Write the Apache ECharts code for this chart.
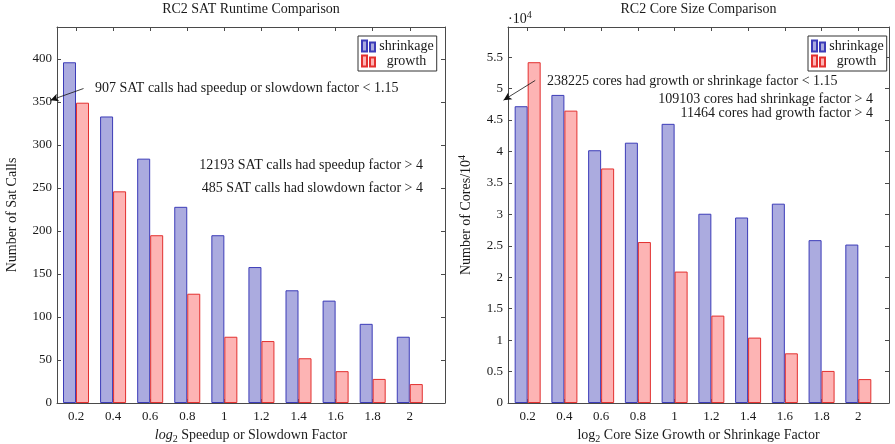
<!DOCTYPE html>
<html>
<head>
<meta charset="utf-8">
<script src="https://cdn.jsdelivr.net/npm/echarts@6/dist/echarts.min.js"></script>
<style>
  html, body { margin: 0; padding: 0; background: #fff; }
  #chart { width: 895px; height: 444px; }
</style>
</head>
<body>
<div id="chart"></div>
<script>
// log2 factor buckets (shared by both plots)
const factors = [0.2, 0.4, 0.6, 0.8, 1, 1.2, 1.4, 1.6, 1.8, 2];

// left plot: number of SAT calls
const satShrink = [396, 333, 284, 228, 195, 158, 131, 119, 92, 77];
const satGrowth = [349, 246, 195, 127, 77, 72, 52, 37, 28, 22];

// right plot: number of cores / 10^4
const coreShrink = [4.72, 4.9, 4.02, 4.14, 4.44, 3.01, 2.95, 3.17, 2.59, 2.52];
const coreGrowth = [5.42, 4.65, 3.73, 2.56, 2.09, 1.39, 1.04, 0.79, 0.51, 0.38];

// tick labels
const satTicks = [0, 50, 100, 150, 200, 250, 300, 350, 400];
const coreTicks = [0, 0.5, 1, 1.5, 2, 2.5, 3, 3.5, 4, 4.5, 5, 5.5];

const FONT = "'Liberation Serif', 'DejaVu Serif', serif";
const TXT = '#1a1a1a';
const LINE = '#4a4a4a';
const BLUE_FILL = '#ababdf', BLUE_LINE = '#3c3cb8';
const RED_FILL = '#fdb4b4', RED_LINE = '#e3302f';

const pair = (xs, ys) => xs.map((x, i) => [x, ys[i]]);

const richBase = {
  n: { fontFamily: FONT, fontSize: 14, color: TXT, lineHeight: 18 },
  i: { fontFamily: FONT, fontSize: 14, color: TXT, lineHeight: 18, fontStyle: 'italic' },
  sub: { fontFamily: FONT, fontSize: 10, color: TXT, lineHeight: 10, verticalAlign: 'bottom' },
  sup: { fontFamily: FONT, fontSize: 10, color: TXT, lineHeight: 10, verticalAlign: 'top' }
};

// one side of the box
function xAxisOf(grid, min, max, pos, name) {
  return {
    gridIndex: grid, type: 'value', min, max, position: pos,
    axisLine: { show: true, onZero: false, lineStyle: { color: LINE, width: 1 } },
    axisTick: { show: true, inside: true, length: 4, customValues: factors, lineStyle: { color: LINE } },
    axisLabel: {
      show: pos === 'bottom', customValues: factors, margin: 7,
      fontFamily: FONT, fontSize: 13, color: TXT
    },
    splitLine: { show: false },
    name: name || '', nameLocation: 'middle', nameGap: 19,
    nameTextStyle: { rich: richBase }
  };
}

function yAxisOf(grid, max, ticks, pos, name, gap) {
  return {
    gridIndex: grid, type: 'value', min: 0, max, position: pos,
    axisLine: { show: true, onZero: false, lineStyle: { color: LINE, width: 1 } },
    axisTick: { show: true, inside: true, length: 4, customValues: ticks, lineStyle: { color: LINE } },
    axisLabel: {
      show: pos === 'left', customValues: ticks, margin: 5,
      fontFamily: FONT, fontSize: 13, color: TXT
    },
    splitLine: { show: false },
    name: name || '', nameLocation: 'middle', nameGap: gap || 0, nameRotate: 90,
    nameTextStyle: { rich: richBase }
  };
}

function arrow(from, to) {
  return {
    silent: true, animation: false,
    symbol: ['none', 'arrow'], symbolSize: [6, 8],
    label: { show: false },
    lineStyle: { color: '#111', width: 0.8, type: 'solid' },
    data: [[{ coord: from }, { coord: to }]]
  };
}

function bars(name, xi, data, fill, line, extra) {
  return Object.assign({
    name, type: 'bar', xAxisIndex: xi, yAxisIndex: xi,
    data, barWidth: 13, barGap: '0%',
    itemStyle: { color: fill, borderColor: line, borderWidth: 1 }
  }, extra || {});
}

function legendOf(left) {
  return {
    orient: 'vertical', left, top: 36,
    data: ['shrinkage', 'growth'],
    icon: 'path://M0,0h5v11h-5z M8,2h5v9h-5z',
    itemWidth: 13, itemHeight: 11, itemGap: 1,
    padding: [3, 3, 3, 3],
    borderColor: '#333', borderWidth: 1, backgroundColor: '#fff',
    selectedMode: false,
    formatter: n => '{t|' + n + '}',
    textStyle: {
      rich: { t: { fontFamily: FONT, fontSize: 14, color: TXT, width: 53, align: 'center', lineHeight: 15 } }
    }
  };
}

function label(x, y, text, align) {
  return {
    type: 'text', x, y, silent: true,
    style: {
      text, align: align || 'left', verticalAlign: 'middle',
      fontFamily: FONT, fontSize: 14, fill: TXT, rich: richBase
    }
  };
}

const chart = echarts.init(document.getElementById('chart'));
chart.setOption({
  animation: false,
  grid: [
    { left: 57, right: 450, top: 27, bottom: 41, outerBoundsMode: 'none' },
    { left: 508, right: 6, top: 27, bottom: 41, outerBoundsMode: 'none' }
  ],
  xAxis: [
    xAxisOf(0, 0.0975, 2.19, 'bottom', '{i|log}{sub|2}{n| Speedup or Slowdown Factor}'),
    xAxisOf(1, 0.093, 2.167, 'bottom', '{n|log}{sub|2}{n| Core Size Growth or Shrinkage Factor}'),
    xAxisOf(0, 0.0975, 2.19, 'top'),
    xAxisOf(1, 0.093, 2.167, 'top')
  ],
  yAxis: [
    yAxisOf(0, 437, satTicks, 'left', '{n|Number of Sat Calls}', 36),
    yAxisOf(1, 5.98, coreTicks, 'left', '{n|Number of Cores/10}{sup|4}', 33),
    yAxisOf(0, 437, satTicks, 'right'),
    yAxisOf(1, 5.98, coreTicks, 'right')
  ],
  legend: [legendOf(358), legendOf(808)],
  series: [
    bars('shrinkage', 0, pair(factors, satShrink), BLUE_FILL, BLUE_LINE,
      { markLine: arrow([0.2756, 365.5], [0.0975, 351.9]) }),
    bars('growth', 0, pair(factors, satGrowth), RED_FILL, RED_LINE),
    bars('shrinkage', 1, pair(factors, coreShrink), BLUE_FILL, BLUE_LINE,
      { markLine: arrow([0.2765, 5.13], [0.104, 4.817]) }),
    bars('growth', 1, pair(factors, coreGrowth), RED_FILL, RED_LINE)
  ],
  graphic: [
    label(251, 9, 'RC2 SAT Runtime Comparison', 'center'),
    label(698.5, 9, 'RC2 Core Size Comparison', 'center'),
    label(95, 88, '907 SAT calls had speedup or slowdown factor < 1.15'),
    label(423, 165, '12193 SAT calls had speedup factor > 4', 'right'),
    label(423, 188, '485 SAT calls had slowdown factor > 4', 'right'),
    label(547, 81, '238225 cores had growth or shrinkage factor < 1.15'),
    label(873, 99, '109103 cores had shrinkage factor > 4', 'right'),
    label(873, 113, '11464 cores had growth factor > 4', 'right'),
    label(508, 19, '{n|·10}{sup|4}')
  ]
});
</script>
</body>
</html>
